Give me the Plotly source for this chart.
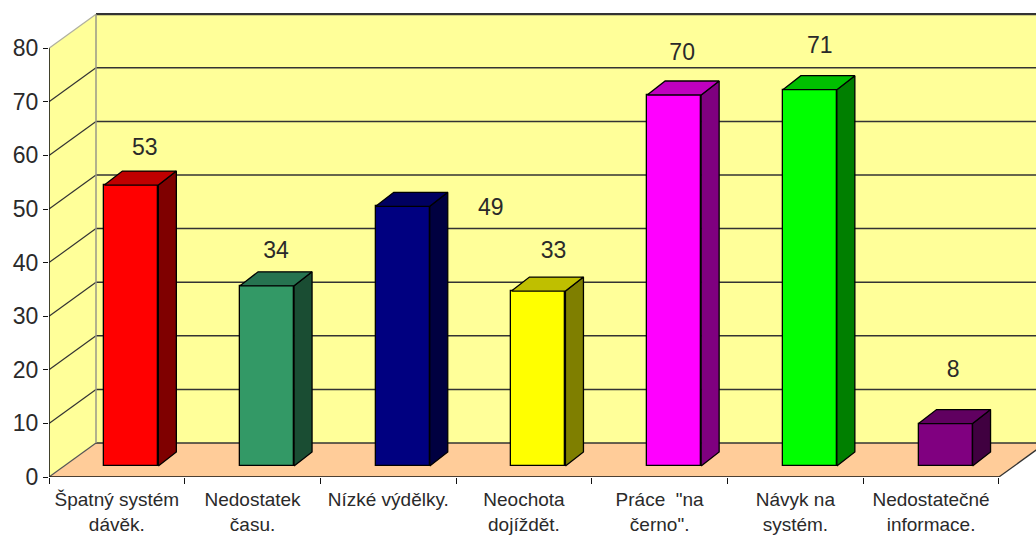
import plotly.graph_objects as go

categories = ["Špatný systém<br>dávěk.", "Nedostatek<br>času.", "Nízké výdělky.", "Neochota<br>dojíždět.",
              "Práce  \"na<br>černo\".", "Návyk na<br>systém.", "Nedostatečné<br>informace."]
values = [53, 34, 49, 33, 70, 71, 8]
front_colors = ["#FF0000", "#339966", "#000080", "#FFFF00", "#FF00FF", "#00FF00", "#800080"]
side_colors = ["#7F0000", "#1A4D33", "#000040", "#7F7F00", "#7F007F", "#007F00", "#400040"]
top_colors = ["#BF0000", "#267350", "#000060", "#BFBF00", "#BF00BF", "#00BF00", "#600060"]
y_ticks = [0, 10, 20, 30, 40, 50, 60, 70, 80]
label_dx_px = [13.5, 9, 88, 15, 8, 10, 7.5]
label_dy_px = [-36, -34, 3, -39, -41, -42, -52]

W, H = 1036, 535
L, FLOOR_PX = 49, 477
PX_X = 135.7
PX_Y = 5.36
N = len(values)
X_MAX = (W - L) / PX_X
Y_MAX = FLOOR_PX / PX_Y
DX, DY = 47 / PX_X, 34 / PX_Y          # full depth of the floor
BAR_X = 14.5 / PX_X                    # bar shift into the depth
BAR_BASE = 11 / PX_Y
BAR_W = 54 / PX_X
BAR_DX, BAR_DY = 18 / PX_X, 14 / PX_Y
HEIGHT_SCALE = 5.3 / PX_Y              # bars stand further back than the front scale

INK = "#2a2a2a"
shapes = []


def poly(points, fill, line=None, width=0):
    d = "M " + " L ".join(f"{x},{y}" for x, y in points) + " Z"
    shapes.append(dict(type="path", path=d, xref="x", yref="y", layer="below",
                       fillcolor=fill, line=dict(color=line or fill, width=width)))


def seg(p0, p1, color=INK, width=1.3):
    shapes.append(dict(type="line", xref="x", yref="y", layer="below",
                       x0=p0[0], y0=p0[1], x1=p1[0], y1=p1[1],
                       line=dict(color=color, width=width)))


top = y_ticks[-1]
poly([(0, 0), (DX, DY), (DX, top + DY), (0, top)], "#FFFF99")
poly([(DX, DY), (N + DX, DY), (N + DX, top + DY), (DX, top + DY)], "#FFFF99")
poly([(0, 0), (N, 0), (N + DX, DY), (DX, DY)], "#FFCC99")
for v in y_ticks:
    if v == top:
        seg((0, v), (DX, v + DY), "#B0B0A0", 1.3)
        seg((DX, v + DY), (N + DX, v + DY), "#333333", 2.2)
    else:
        seg((0, v), (DX, v + DY), "#333333" if v else "#555555", 1.2)
        seg((DX, v + DY), (N + DX, v + DY), "#333333", 1.5)
seg((DX, DY), (DX, top + DY), "#999988", 1.5)
seg((N, 0), (N + DX, DY), "#333333", 1.3)

fig = go.Figure()

centers = [i + 0.5 + BAR_X for i in range(N)]
heights = [v * HEIGHT_SCALE for v in values]

fig.add_trace(go.Bar(
    x=centers, y=heights, base=[BAR_BASE] * N, width=[BAR_W] * N,
    marker=dict(color=front_colors, line=dict(color="#000000", width=1.3)),
    showlegend=False, hoverinfo="skip"))

for cx, h, sc, tc in zip(centers, heights, side_colors, top_colors):
    x0, x1 = cx - BAR_W / 2, cx + BAR_W / 2
    y0, y1 = BAR_BASE, BAR_BASE + h
    fig.add_trace(go.Scatter(
        x=[x1, x1 + BAR_DX, x1 + BAR_DX, x1, x1], y=[y0, y0 + BAR_DY, y1 + BAR_DY, y1, y0],
        mode="lines", fill="toself", fillcolor=sc, line=dict(color="#000000", width=1.3),
        showlegend=False, hoverinfo="skip"))
    fig.add_trace(go.Scatter(
        x=[x0, x1, x1 + BAR_DX, x0 + BAR_DX, x0], y=[y1, y1, y1 + BAR_DY, y1 + BAR_DY, y1],
        mode="lines", fill="toself", fillcolor=tc, line=dict(color="#000000", width=1.3),
        showlegend=False, hoverinfo="skip"))

# Data labels, placed by hand in the original
fig.add_trace(go.Scatter(
    x=[c + dx / PX_X for c, dx in zip(centers, label_dx_px)],
    y=[BAR_BASE + h - dy / PX_Y for h, dy in zip(heights, label_dy_px)],
    mode="text", text=[str(v) for v in values], textposition="middle center",
    textfont=dict(family="Liberation Sans", size=23, color=INK),
    showlegend=False, hoverinfo="skip", cliponaxis=False))

# Front edge of the floor
fig.add_trace(go.Scatter(x=[0, N], y=[0, 0], mode="lines", line=dict(color="#111111", width=1.6),
                         showlegend=False, hoverinfo="skip", cliponaxis=False))

fig.add_trace(go.Scatter(x=[0], y=[0], xaxis="x2", mode="markers", marker=dict(opacity=0),
                         showlegend=False, hoverinfo="skip"))

fig.update_layout(
    width=W, height=H, autosize=False,
    margin=dict(l=L, r=0, t=0, b=H - FLOOR_PX, pad=0),
    paper_bgcolor="white", plot_bgcolor="white",
    shapes=shapes, bargap=0,
    xaxis=dict(range=[0, X_MAX], tickvals=[i + 0.5 for i in range(N)], ticktext=categories,
               ticks="", showgrid=False, zeroline=False, showline=False, fixedrange=True,
               ticklabelstandoff=9,
               tickfont=dict(family="Liberation Sans", size=19, color=INK)),
    xaxis2=dict(range=[0, X_MAX], overlaying="x", anchor="y", side="bottom",
                tickvals=list(range(N + 1)), ticktext=[""] * (N + 1), ticks="outside",
                ticklen=6, tickwidth=1.4, tickcolor="#111111",
                showgrid=False, zeroline=False, showline=False, fixedrange=True),
    yaxis=dict(range=[0, Y_MAX], tickvals=y_ticks, ticks="outside", ticklen=5, tickwidth=1.4,
               tickcolor="#111111", showgrid=False, zeroline=False, fixedrange=True,
               tickfont=dict(family="Liberation Sans", size=23, color=INK)),
)
fig.add_trace(go.Scatter(x=[0, 0], y=[0, top], mode="lines", line=dict(color="#111111", width=1.6),
                         showlegend=False, hoverinfo="skip", cliponaxis=False))

fig.write_html("out.html", config={"displayModeBar": False},
               post_script="document.body.style.margin='0';document.body.style.overflow='hidden';")
